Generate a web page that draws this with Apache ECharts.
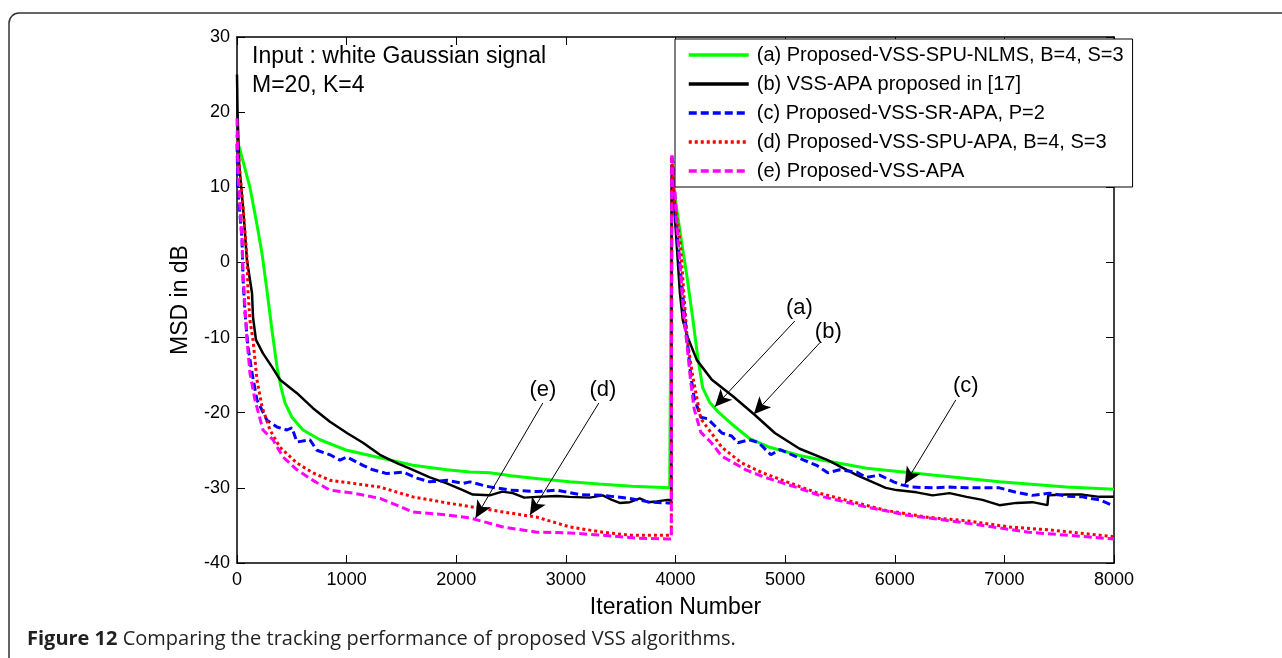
<!DOCTYPE html>
<html lang="en">
<head>
    <meta charset="UTF-8">
    <title>Figure 12 - tracking performance</title>
    <script type="text/javascript" src="https://cdn.jsdelivr.net/npm/echarts@6/dist/echarts.min.js"></script>
    <style>
        html, body { margin: 0; padding: 0; background: #fff; }
    </style>
</head>
<body>
<div id="main" style="width: 1282px;height:658px;"></div>
<script>

    // (a) Proposed-VSS-SPU-NLMS, B=4, S=3
    var aX = [0, 27, 118, 180, 228, 273, 319, 365, 401, 438, 501, 602, 757, 1003, 1304, 1604, 1914, 2124, 2306, 2500, 2750, 3035, 3300, 3600, 3947, 3962, 3966, 3990, 4011, 4057, 4107, 4154, 4203, 4248, 4311, 4389, 4512, 4672, 4859, 5132, 5333, 5743, 6345, 6955, 7566, 8000];
    var aY = [16.3, 15.0, 10.0, 5.2, 1.2, -3.7, -9.0, -13.9, -16.6, -18.7, -20.6, -22.3, -23.6, -25.0, -26.0, -27.0, -27.6, -27.9, -28.0, -28.4, -28.8, -29.2, -29.5, -29.8, -30.0, -30.0, 11.0, 9.5, 7.1, 2.6, -2.1, -7.1, -12.6, -16.7, -18.6, -19.9, -21.5, -23.4, -24.6, -25.7, -26.3, -27.4, -28.3, -29.2, -29.9, -30.2];

    // (b) VSS-APA proposed in [17]
    var bX = [0, 5, 20, 55, 91, 118, 137, 146, 173, 237, 319, 392, 547, 693, 848, 1003, 1149, 1304, 1459, 1604, 1759, 1914, 2060, 2151, 2306, 2420, 2516, 2620, 2735, 2917, 3035, 3218, 3336, 3420, 3491, 3583, 3674, 3750, 3829, 3929, 3962, 3966, 3990, 4040, 4067, 4107, 4195, 4332, 4532, 4724, 4906, 5132, 5389, 5654, 5918, 6016, 6199, 6345, 6500, 6655, 6800, 6955, 7110, 7256, 7393, 7400, 7566, 7712, 7867, 8000];
    var bY = [25, 20, 13, 7.4, 0.3, -2.3, -4.1, -7.3, -10.3, -12.1, -13.9, -15.6, -17.4, -19.4, -21.2, -22.7, -24.0, -25.6, -26.7, -27.6, -28.6, -29.4, -30.3, -30.9, -31.0, -30.5, -30.7, -31.3, -31.2, -31.1, -31.2, -31.3, -31.0, -31.6, -32.0, -31.9, -31.4, -31.9, -31.8, -31.6, -31.6, 13.0, 7.0, -4.0, -7.7, -9.8, -13.0, -15.6, -17.9, -20.3, -22.7, -24.8, -26.3, -28.3, -30.0, -30.3, -30.6, -31.0, -30.7, -31.2, -31.6, -32.3, -32.0, -31.9, -32.3, -31.0, -30.9, -30.9, -31.2, -31.2];

    // (c) Proposed-VSS-SR-APA, P=2
    var cX = [0, 9, 46, 55, 73, 100, 137, 182, 273, 365, 456, 501, 547, 665, 729, 848, 939, 1003, 1149, 1240, 1367, 1513, 1641, 1759, 1914, 2060, 2124, 2279, 2489, 2735, 2917, 3127, 3336, 3583, 3765, 3929, 3962, 3966, 3990, 4045, 4075, 4107, 4138, 4170, 4231, 4293, 4423, 4512, 4569, 4672, 4760, 4870, 4954, 5170, 5287, 5389, 5497, 5652, 5743, 5862, 5990, 6063, 6162, 6345, 6500, 6655, 6800, 6955, 7110, 7256, 7411, 7566, 7712, 7867, 8000];
    var cY = [15.8, 9.6, 3.0, -2.3, -6.7, -11.2, -14.7, -18.3, -21.0, -21.9, -22.3, -22.0, -23.9, -23.6, -25.0, -25.6, -26.3, -25.9, -27.0, -27.6, -28.1, -27.9, -28.7, -29.2, -29.0, -29.4, -29.2, -29.8, -30.3, -30.5, -30.3, -30.9, -31.0, -31.4, -31.9, -32.0, -32.0, 14.0, 8.0, -1.1, -5.7, -10.3, -14.9, -18.0, -20.6, -20.8, -22.7, -23.1, -24.0, -23.6, -24.0, -25.6, -24.9, -26.3, -27.0, -28.0, -27.6, -27.9, -28.6, -28.3, -29.2, -29.6, -29.9, -30.0, -29.9, -30.0, -30.0, -30.0, -30.6, -31.0, -30.7, -31.1, -31.2, -31.6, -32.4];

    // (d) Proposed-VSS-SPU-APA, B=4, S=3
    var dX = [0, 27, 55, 91, 100, 118, 146, 182, 228, 301, 392, 547, 693, 848, 1058, 1304, 1604, 1914, 2124, 2425, 2735, 3035, 3336, 3583, 3929, 3962, 3966, 3990, 4045, 4075, 4107, 4154, 4231, 4423, 4605, 4796, 5015, 5280, 5545, 5918, 6292, 6666, 7040, 7414, 8000];
    var dY = [17.0, 11.9, 7.4, 0.7, -3.7, -7.7, -10.3, -15.6, -19.2, -22.3, -24.6, -26.7, -28.0, -29.0, -29.4, -29.9, -31.2, -32.0, -32.5, -33.2, -33.9, -35.2, -35.9, -36.3, -36.3, -36.3, 14.0, 8.5, 2.5, -3.9, -10.3, -14.9, -20.8, -24.6, -26.7, -28.0, -29.2, -30.6, -31.6, -33.0, -33.9, -34.4, -35.2, -35.6, -36.5];

    // (e) Proposed-VSS-APA
    var eX = [0, 9, 27, 46, 55, 73, 91, 118, 164, 237, 328, 420, 547, 693, 848, 1058, 1304, 1604, 1914, 2124, 2425, 2735, 3035, 3336, 3646, 3929, 3962, 3966, 3984, 4011, 4045, 4075, 4107, 4138, 4170, 4231, 4327, 4423, 4642, 4796, 5097, 5352, 5727, 6100, 6666, 7222, 8000];
    var eY = [19.2, 11.9, 7.4, 3.0, -1.4, -5.9, -10.3, -14.7, -18.3, -22.3, -23.6, -25.9, -27.6, -29.0, -30.3, -30.7, -31.4, -33.2, -33.6, -34.0, -35.2, -35.9, -36.0, -36.3, -36.7, -36.8, -36.8, 14.5, 12.6, 5.2, -1.1, -7.1, -11.3, -15.8, -19.5, -22.6, -24.0, -25.8, -27.6, -28.5, -29.9, -31.2, -32.5, -33.6, -34.7, -35.9, -36.8];

    var names = [
        '(a) Proposed-VSS-SPU-NLMS, B=4, S=3',
        '(b) VSS-APA proposed in [17]',
        '(c) Proposed-VSS-SR-APA, P=2',
        '(d) Proposed-VSS-SPU-APA, B=4, S=3',
        '(e) Proposed-VSS-APA'
    ];

    // annotation labels and arrows: label position, arrow start, arrow tip
    var noteText = ['(a)', '(b)', '(c)', '(e)', '(d)'];
    var noteAt = [[5130, -6.1], [5394, -9.3], [6648, -16.4], [2790, -17.0], [3338, -17.0]];
    var arrowFrom = [[5088, -7.8], [5316, -10.7], [6557, -18.3], [2790, -18.7], [3301, -18.7]];
    var arrowTo = [[4359, -19.2], [4714, -20.2], [6092, -29.5], [2176, -34.0], [2672, -33.6]];

    var xTicks = {min: 0, max: 8000, interval: 1000};
    var yTicks = {min: -40, max: 30, interval: 10};

    function pairs(xs, ys) {
        var out = [];
        for (var i = 0; i < xs.length; i++) {
            out.push([xs[i], ys[i]]);
        }
        return out;
    }

    var FONT = 'Liberation Sans, Arial, sans-serif';

    function curve(name, xs, ys, color, width, type) {
        return {
            name: name,
            type: 'line',
            data: pairs(xs, ys),
            symbol: 'none',
            showSymbol: false,
            lineStyle: {color: color, width: width, type: type, cap: 'butt'},
            itemStyle: {color: color},
            emphasis: {disabled: true},
            silent: true
        };
    }

    var myChart = echarts.init(document.getElementById('main'));

    var arrows = [];
    var labels = [];
    for (var i = 0; i < noteText.length; i++) {
        arrows.push([
            {coord: arrowFrom[i], symbol: 'none'},
            {coord: arrowTo[i], symbol: 'arrow', symbolSize: [12, 17]}
        ]);
        labels.push({name: noteText[i], coord: noteAt[i]});
    }

    var axisCommon = {
        type: 'value',
        axisLine: {show: true, onZero: false, lineStyle: {color: '#000', width: 1.5}},
        axisTick: {show: true, inside: true, length: 8, lineStyle: {color: '#000', width: 1}},
        splitLine: {show: false}
    };

    function plain(v) {
        return String(v);
    }

    option = {
        animation: false,
        backgroundColor: '#fff',
        grid: {left: 237, right: 168, top: 37, bottom: 95, containLabel: false},
        xAxis: [
            Object.assign({}, axisCommon, xTicks, {
                position: 'bottom',
                name: 'Iteration Number',
                nameLocation: 'middle',
                nameGap: 33,
                nameTextStyle: {fontFamily: FONT, fontSize: 23, color: '#000'},
                axisLabel: {fontFamily: FONT, fontSize: 18, color: '#000', margin: 8, formatter: plain}
            }),
            Object.assign({}, axisCommon, xTicks, {
                position: 'top',
                axisLabel: {show: false}
            })
        ],
        yAxis: [
            Object.assign({}, axisCommon, yTicks, {
                position: 'left',
                name: 'MSD in dB',
                nameLocation: 'middle',
                nameRotate: 90,
                nameGap: 45,
                nameTextStyle: {fontFamily: FONT, fontSize: 23, color: '#000'},
                axisLabel: {fontFamily: FONT, fontSize: 18, color: '#000', margin: 7, formatter: plain}
            }),
            Object.assign({}, axisCommon, yTicks, {
                position: 'right',
                axisLabel: {show: false}
            })
        ],
        legend: {
            data: names,
            orient: 'vertical',
            left: 675,
            top: 39,
            padding: [6, 9, 6, 12],
            itemGap: 9,
            itemWidth: 60,
            itemHeight: 14,
            backgroundColor: '#fff',
            borderColor: '#000',
            borderWidth: 1,
            borderRadius: 0,
            selectedMode: false,
            itemStyle: {opacity: 0},
            lineStyle: {width: 3.5},
            textStyle: {fontFamily: FONT, fontSize: 20, color: '#000', padding: [0, 0, 0, 3]}
        },
        series: [
            curve(names[0], aX, aY, '#00ff00', 3, 'solid'),
            curve(names[1], bX, bY, '#000000', 2.5, 'solid'),
            curve(names[2], cX, cY, '#0000ff', 3, [8, 4]),
            curve(names[3], dX, dY, '#ff0000', 3, [3, 3]),
            curve(names[4], eX, eY, '#ff00ff', 3, [8, 4]),
            {
                name: 'notes',
                type: 'line',
                data: [],
                silent: true,
                markLine: {
                    silent: true,
                    animation: false,
                    symbol: ['none', 'arrow'],
                    lineStyle: {color: '#000', width: 1, type: 'solid'},
                    label: {show: false},
                    emphasis: {disabled: true},
                    data: arrows
                },
                markPoint: {
                    silent: true,
                    animation: false,
                    symbol: 'circle',
                    symbolSize: 0,
                    label: {
                        show: true,
                        position: 'inside',
                        formatter: '{b}',
                        fontFamily: FONT,
                        fontSize: 22,
                        color: '#000'
                    },
                    data: labels
                }
            }
        ],
        graphic: [
            {
                type: 'rect',
                silent: true,
                shape: {x: 9, y: 13, width: 1400, height: 800, r: 10},
                style: {fill: 'none', stroke: '#333', lineWidth: 1.5}
            },
            {
                type: 'text',
                left: 252,
                top: 45,
                style: {text: 'Input : white Gaussian signal', font: '23px ' + FONT, fill: '#000'}
            },
            {
                type: 'text',
                left: 252,
                top: 74,
                style: {text: 'M=20, K=4', font: '23px ' + FONT, fill: '#000'}
            },
            {
                type: 'text',
                left: 27,
                top: 629,
                style: {
                    text: '{b|Figure 12} Comparing the tracking performance of proposed VSS algorithms.',
                    font: '20px Open Sans, sans-serif',
                    fill: '#231f20',
                    rich: {
                        b: {fontFamily: 'Open Sans, sans-serif', fontSize: 20, fontWeight: 'bold', fill: '#231f20'}
                    }
                }
            }
        ]
    };

    // 使用刚指定的配置项和数据显示图表。
    myChart.setOption(option);

</script>
</body>
</html>
